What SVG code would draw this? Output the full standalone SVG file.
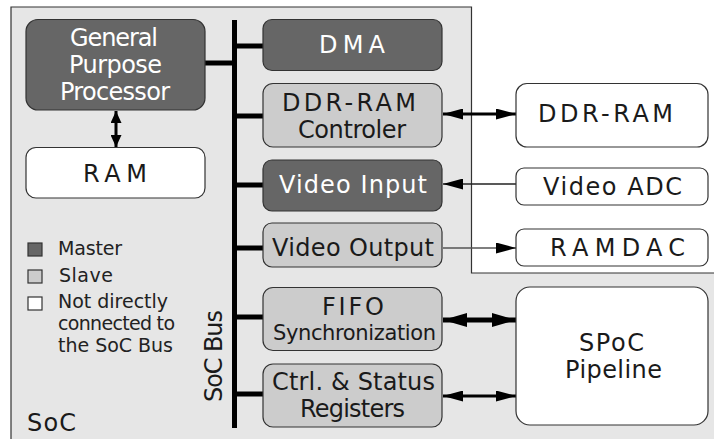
<svg xmlns="http://www.w3.org/2000/svg" width="714" height="439" viewBox="0 0 714 439">
<style>
text{font-family:"DejaVu Sans","Liberation Sans",sans-serif;font-size:24px;text-anchor:middle}
.m{fill:#666;stroke:#333;stroke-width:1.2}
.s{fill:#ccc;stroke:#333;stroke-width:1.2}
.w{fill:#fff;stroke:#333;stroke-width:1.2}
.tw{fill:#fff}
.tb{fill:#1a1a1a}
.bus{stroke:#000;stroke-width:5;fill:none}
.leg{font-size:19px;text-anchor:start;fill:#222}
</style>
<defs>
<marker id="ah" markerUnits="userSpaceOnUse" markerWidth="20" markerHeight="11" refX="20" refY="5.5" orient="auto-start-reverse"><path d="M0,0 L20,5.5 L0,11 z" fill="#000"/></marker>
<marker id="ahL" markerUnits="userSpaceOnUse" markerWidth="24" markerHeight="14" refX="24" refY="7" orient="auto-start-reverse"><path d="M0,0 L24,7 L0,14 z" fill="#000"/></marker>
<marker id="ahS" markerUnits="userSpaceOnUse" markerWidth="12" markerHeight="11" refX="12" refY="5.5" orient="auto-start-reverse"><path d="M0,0 L12,5.5 L0,11 z" fill="#000"/></marker>
</defs>
<path d="M11,7 H471.5 V273 H716 V442 H11 Z" fill="#e6e6e6" stroke="#333" stroke-width="1.2"/>

<g id="connectors">
<path class="bus" d="M234.5,20 V428"/>
<path class="bus" d="M205,63 H234.5 M234.5,46 H263 M234.5,116 H263 M234.5,185 H263 M234.5,248 H263 M234.5,317 H263 M234.5,394 H263"/>
<path d="M116,111 V147" stroke="#000" stroke-width="3" marker-start="url(#ahS)" marker-end="url(#ahS)"/>
<path d="M443,114 H516" stroke="#000" stroke-width="3" marker-start="url(#ah)" marker-end="url(#ah)"/>
<path d="M516,184 H443" stroke="#222" stroke-width="1.3" marker-end="url(#ah)"/>
<path d="M443,248 H516" stroke="#555" stroke-width="1.5" marker-end="url(#ah)"/>
<path d="M443,320 H516" stroke="#000" stroke-width="5" marker-start="url(#ahL)" marker-end="url(#ahL)"/>
<path d="M443,396 H516" stroke="#000" stroke-width="3" marker-start="url(#ah)" marker-end="url(#ah)"/>
</g>

<g id="gpp"><rect class="m" x="26" y="19.5" width="179" height="90.5" rx="12"/>
<text class="tw" x="114" y="46" textLength="88">General</text>
<text class="tw" x="115.5" y="73" textLength="93">Purpose</text>
<text class="tw" x="115" y="100" textLength="110">Processor</text></g>
<g id="ram"><rect class="w" x="26" y="147.5" width="179" height="50.5" rx="10"/>
<text class="tb" x="115" y="182" textLength="64">RAM</text></g>

<g id="dma"><rect class="m" x="263" y="19.5" width="179" height="51" rx="9"/>
<text class="tw" x="352" y="53" textLength="66">DMA</text></g>
<g id="ddrctl"><rect class="s" x="263" y="83.5" width="179" height="63.5" rx="10"/>
<text class="tb" x="349" y="111" textLength="134">DDR-RAM</text>
<text class="tb" x="352" y="138" textLength="108">Controler</text></g>
<g id="vin"><rect class="m" x="263" y="160" width="179" height="51" rx="9"/>
<text class="tw" x="353" y="193" textLength="148">Video Input</text></g>
<g id="vout"><rect class="s" x="263" y="223" width="179" height="44" rx="9"/>
<text class="tb" x="353" y="256" textLength="162">Video Output</text></g>
<g id="fifo"><rect class="s" x="263" y="287.5" width="179" height="63" rx="10"/>
<text class="tb" x="353" y="315" textLength="62">FIFO</text>
<text class="tb" x="354.5" y="340" textLength="163" style="font-size:21px">Synchronization</text></g>
<g id="ctrl"><rect class="s" x="263" y="364" width="179" height="63" rx="10"/>
<text class="tb" x="353.5" y="390" textLength="163">Ctrl. &amp; Status</text>
<text class="tb" x="352.5" y="417" textLength="105">Registers</text></g>

<g id="ddr"><rect class="w" x="516" y="83.5" width="192" height="63.5" rx="11"/>
<text class="tb" x="605.5" y="122" textLength="135">DDR-RAM</text></g>
<g id="vadc"><rect class="w" x="516" y="168" width="192" height="37" rx="8"/>
<text class="tb" x="612.5" y="195" textLength="139">Video ADC</text></g>
<g id="ramdac"><rect class="w" x="516" y="229" width="192" height="37" rx="8"/>
<text class="tb" x="617.5" y="256" textLength="135">RAMDAC</text></g>
<g id="spoc"><rect class="w" x="516" y="287" width="192" height="138" rx="14"/>
<text class="tb" x="611.5" y="351" textLength="65">SPoC</text>
<text class="tb" x="613.5" y="378" textLength="97">Pipeline</text></g>

<g id="legend">
<rect class="m" x="28" y="243" width="14" height="13"/>
<rect class="s" x="28" y="270" width="14" height="13"/>
<rect class="w" x="28" y="297" width="14" height="13"/>
<text class="leg" x="58" y="255" textLength="64">Master</text>
<text class="leg" x="59" y="282" textLength="54">Slave</text>
<text class="leg" x="58" y="308" textLength="110">Not directly</text>
<text class="leg" x="58" y="330" textLength="117">connected to</text>
<text class="leg" x="58" y="352" textLength="115">the SoC Bus</text>
</g>
<g id="labels">
<text class="tb" x="27" y="431" textLength="49" style="text-anchor:start">SoC</text>
<text class="tb" transform="translate(222,356) rotate(-90)" textLength="92">SoC Bus</text>
</g>
</svg>
